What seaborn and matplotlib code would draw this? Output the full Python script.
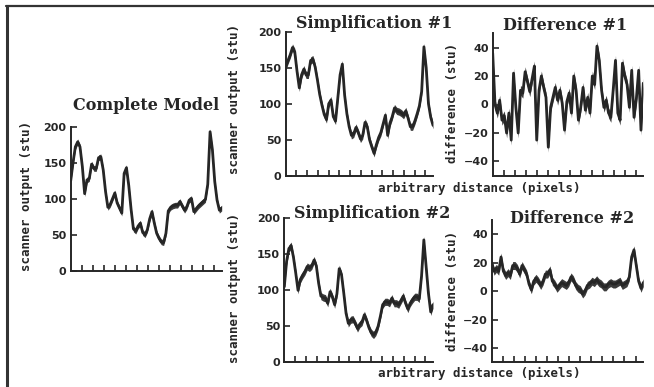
import numpy as np
import matplotlib
matplotlib.use("Agg")
import matplotlib.pyplot as plt
from matplotlib.lines import Line2D
import seaborn as sns

# sample positions along the scan line (arbitrary units)
distance = np.arange(0, 131, 2)

complete_model = [125, 150, 172, 179, 172, 145, 107, 126, 128, 148, 142, 142, 157, 158, 140,
                  110, 88, 92, 100, 108, 94, 87, 80, 135, 143, 118, 85, 58, 55, 62, 66, 53,
                  50, 57, 72, 82, 66, 52, 45, 40, 39, 52, 83, 88, 90, 91, 91, 96, 90, 84, 89,
                  98, 100, 82, 86, 90, 93, 96, 99, 120, 193, 168, 124, 98, 84, 87]

simplification_1 = [151, 160, 168, 178, 172, 145, 122, 140, 148, 140, 140, 160, 162, 151, 133,
                    113, 98, 85, 78, 100, 105, 82, 76, 108, 140, 155, 112, 86, 68, 56, 58, 67,
                    60, 51, 56, 74, 68, 50, 40, 31, 43, 53, 60, 72, 84, 56, 73, 82, 94, 90, 89,
                    87, 84, 90, 80, 68, 68, 76, 86, 97, 117, 179, 150, 100, 81, 70]

difference_1 = [36, 0, -6, 3, -11, -8, -20, -6, -25, 22, -2, -20, 10, 8, 23, 16, 9, 18, 27,
                -25, 10, 20, 12, 5, -30, -2, 5, 12, 3, 10, 1, -18, 2, 8, -6, 20, 10, -11, -2,
                12, -4, 5, -6, 20, 14, 41, 31, 10, -2, 3, -6, -9, 10, 31, -6, -11, 29, 20, 14,
                -2, 24, -9, 4, 24, -18, 15]

simplification_2 = [105, 140, 158, 162, 146, 124, 100, 115, 121, 126, 133, 131, 134, 142, 134,
                    110, 92, 90, 89, 82, 98, 91, 80, 95, 130, 122, 96, 68, 54, 59, 60, 54, 47,
                    53, 56, 66, 58, 48, 41, 38, 42, 50, 64, 80, 84, 84, 82, 89, 82, 82, 80, 86,
                    92, 82, 74, 82, 87, 91, 91, 88, 120, 170, 133, 96, 70, 80]

difference_2 = [20, 14, 16, 14, 24, 14, 11, 13, 11, 18, 18, 16, 12, 18, 15, 12, 5, 1, 7, 9, 7,
                4, 7, 12, 12, 15, 7, 5, 2, 4, 6, 5, 4, 6, 10, 8, 4, 2, 1, -2, 0, 4, 5, 7, 6, 8,
                6, 5, 3, 3, 5, 6, 5, 5, 6, 7, 4, 5, 6, 10, 24, 29, 18, 7, 2, 6]

titles = ["Complete Model", "Simplification #1", "Difference #1",
          "Simplification #2", "Difference #2"]
scanner_label = "scanner output (stu)"
difference_label = "difference (stu)"
distance_label = "arbitrary distance (pixels)"
scanner_ticks = [0, 50, 100, 150, 200]
difference_ticks = [-40, -20, 0, 20, 40]

sns.set_style("white")
plt.rcParams["font.family"] = ["DejaVu Sans"]

W, H = 654, 387
INK = "#262626"
FILL = "#3c3c3c"


def fx(x):
    return x / W


def fy(y):
    return 1 - y / H


def rect(left, top, right, bottom):
    return [fx(left), fy(bottom), (right - left) / W, (bottom - top) / H]


fig = plt.figure(figsize=(W / 100, H / 100), dpi=100)
fig.patch.set_facecolor("white")

panels = [
    (rect(70.7, 126.7, 221.7, 270.7), complete_model, (0, 200), scanner_ticks, 4.0),
    (rect(285.7, 31.7, 433.0, 175.7), simplification_1, (0, 200), scanner_ticks, 5.0),
    (rect(492.7, 33.3, 643.3, 175.7), difference_1, (-50, 50), difference_ticks, 3.5),
    (rect(284.3, 218.3, 433.0, 362.3), simplification_2, (0, 200), scanner_ticks, 5.0),
    (rect(491.7, 220.0, 643.3, 362.3), difference_2, (-50, 50), difference_ticks, 2.8),
]

tick_step = 130 / 13.7
x_ticks = tick_step * np.arange(1, 14)

for bbox, values, ylim, yticks, band in panels:
    ax = fig.add_axes(bbox)
    vals = np.asarray(values, dtype=float)
    ax.fill_between(distance, vals - band, vals + band, color=FILL, linewidth=0)
    sns.lineplot(x=distance, y=vals, ax=ax, color=INK, linewidth=2.0)
    ax.set_xlim(0, 130)
    ax.set_ylim(*ylim)
    ax.set_xticks(x_ticks)
    ax.set_xticklabels([])
    ax.set_yticks(yticks)
    ax.set_yticklabels([f"{t:d}".replace("-", "\u2212") for t in yticks],
                       fontweight="bold", fontsize=8, color=INK)
    ax.tick_params(axis="both", direction="in", length=4, width=1.2, color=INK, pad=3,
                   bottom=True, left=True, top=False, right=False)
    ax.tick_params(axis="x", labelbottom=False)
    for side in ("top", "right"):
        ax.spines[side].set_visible(False)
    for side in ("left", "bottom"):
        ax.spines[side].set_linewidth(1.4)
        ax.spines[side].set_color(INK)
    ax.set_xlabel("")
    ax.set_ylabel("")
    ax.patch.set_alpha(0)

title_pos = [(146, 105), (374, 23), (565, 25), (372, 213), (572, 218)]
for (x, y), t in zip(title_pos, titles):
    fig.text(fx(x), fy(y), t, ha="center", va="center", fontsize=11.5,
             fontweight="bold", family="DejaVu Serif", color=INK)

ylabel_pos = [((26.7, 196), scanner_label), ((235, 99), scanner_label),
              ((452.7, 103), difference_label), ((235, 288), scanner_label),
              ((452.3, 291), difference_label)]
for (x, y), t in ylabel_pos:
    fig.text(fx(x), fy(y), t, ha="center", va="center", rotation=90, fontsize=9,
             fontweight="bold", family="DejaVu Sans Mono", color=INK)

for y in (188, 373):
    fig.text(fx(479), fy(y), distance_label, ha="center", va="center", fontsize=9,
             fontweight="bold", family="DejaVu Sans Mono", color=INK)

# frame around the figure: left and top edges
fig.add_artist(Line2D([fx(6.5), fx(6.5)], [fy(6), fy(387)], transform=fig.transFigure,
                      color="#333333", linewidth=2.2))
fig.add_artist(Line2D([fx(6), fx(654)], [fy(6), fy(6)], transform=fig.transFigure,
                      color="#333333", linewidth=1.6))

fig.savefig("out.png", dpi=100, facecolor="white")
